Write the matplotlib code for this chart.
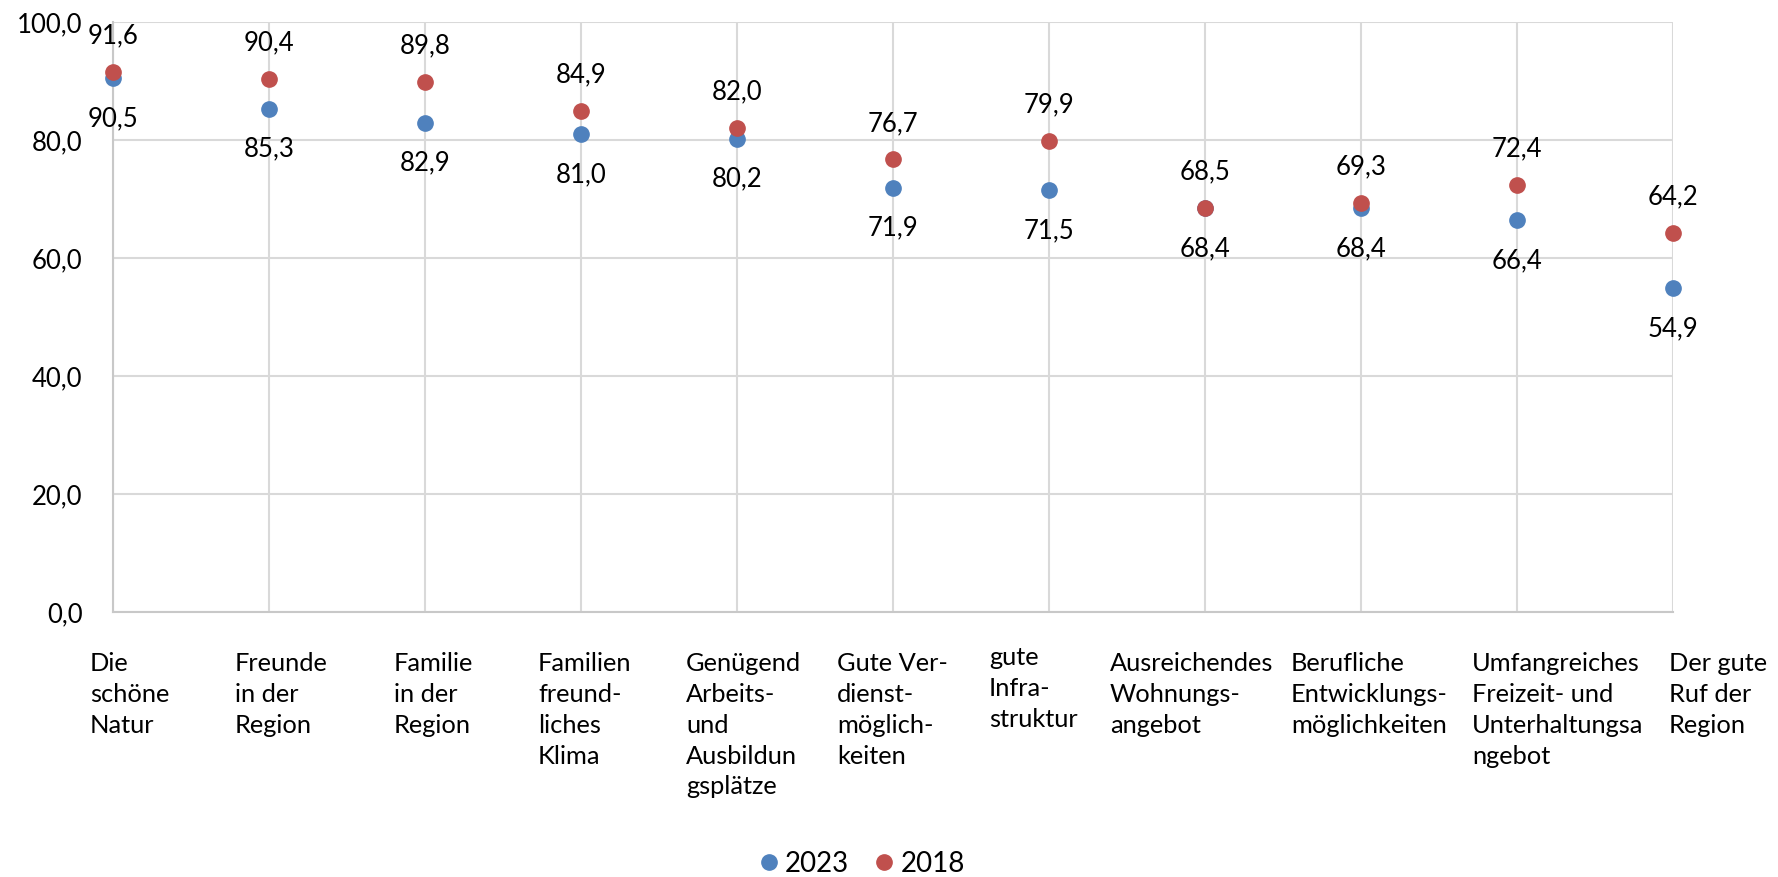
import matplotlib
matplotlib.use("Agg")
import matplotlib.pyplot as plt
import matplotlib.transforms as mtransforms
from matplotlib.lines import Line2D

categories = [
    "Die\nschöne\nNatur",
    "Freunde\nin der\nRegion",
    "Familie\nin der\nRegion",
    "Familien\nfreund-\nliches\nKlima",
    "Genügend\nArbeits-\nund\nAusbildun\ngsplätze",
    "Gute Ver-\ndienst-\nmöglich-\nkeiten",
    "gute\nInfra-\nstruktur",
    "Ausreichendes\nWohnungs-\nangebot",
    "Berufliche\nEntwicklungs-\nmöglichkeiten",
    "Umfangreiches\nFreizeit- und\nUnterhaltungsa\nngebot",
    "Der gute\nRuf der\nRegion",
]
values_2023 = [90.5, 85.3, 82.9, 81.0, 80.2, 71.9, 71.5, 68.4, 68.4, 66.4, 54.9]
values_2018 = [91.6, 90.4, 89.8, 84.9, 82.0, 76.7, 79.9, 68.5, 69.3, 72.4, 64.2]
series_names = ["2023", "2018"]
yticks = [0, 20, 40, 60, 80, 100]

# layout: left-edge offsets (px) of each category label block relative to its tick
label_dx = [-23, -34, -31, -43, -51, -56, -60, -95, -70, -45, -4]
label_dy = [0, 0, 0, 0, 0, 0, 6, 0, 0, 0, 0]

BLUE = "#4F81BD"
RED = "#C0504D"
GRID = "#D9D9D9"

plt.rcParams['font.family'] = ['Lato', 'DejaVu Sans']

fig = plt.figure(figsize=(17.78, 8.77), dpi=100)
ax = fig.add_axes([113/1778, 1 - 612/877, (1673 - 113)/1778, (612 - 22)/877])

x = list(range(len(categories)))
ms = 11
ax.plot(x, values_2023, 'o', color=BLUE, ms=ms, zorder=3, clip_on=False)
ax.plot(x, values_2018, 'o', color=RED, ms=ms, zorder=4, clip_on=False)

def fmt(v):
    return f"{v:.1f}".replace('.', ',')

for xi, v in zip(x, values_2023):
    ax.annotate(fmt(v), (xi, v), xytext=(0, -29), textcoords='offset points',
                ha='center', va='center', fontsize=18.5, color='black', zorder=5,
                annotation_clip=False)
for xi, v in zip(x, values_2018):
    ax.annotate(fmt(v), (xi, v), xytext=(0, 26), textcoords='offset points',
                ha='center', va='center', fontsize=18.5, color='black', zorder=5,
                annotation_clip=False)

ax.set_xlim(0, len(categories) - 1)
ax.set_ylim(0, 100)
ax.set_yticks(yticks)
ax.set_yticklabels([fmt(t) for t in yticks], fontsize=18.5)
ax.set_xticks(x)
ax.set_xticklabels(categories, fontsize=18.3, ha='left', multialignment='left',
                   linespacing=1.41, va='top')
ax.tick_params(axis='y', length=0, pad=22)
ax.tick_params(axis='x', length=0, pad=29)

for lbl, dx, dy in zip(ax.get_xticklabels(), label_dx, label_dy):
    off = mtransforms.ScaledTranslation(dx/100, dy/100, fig.dpi_scale_trans)
    lbl.set_transform(lbl.get_transform() + off)

ax.grid(True, color=GRID, linewidth=1.5, zorder=0)
ax.set_axisbelow(True)
for s in ['top', 'right']:
    ax.spines[s].set_visible(False)
for s in ['left', 'bottom']:
    ax.spines[s].set_color("#C8C8C8")
    ax.spines[s].set_linewidth(1.5)

handles = [Line2D([], [], marker='o', ls='', color=BLUE, ms=ms),
           Line2D([], [], marker='o', ls='', color=RED, ms=ms)]
fig.legend(handles, series_names, loc='center', bbox_to_anchor=(860/1778, 1 - 864/877),
           ncol=2, frameon=False, fontsize=20, handletextpad=0.1, columnspacing=0.76,
           handlelength=1.0, borderpad=0.0)

fig.savefig("out.png", dpi=100)
